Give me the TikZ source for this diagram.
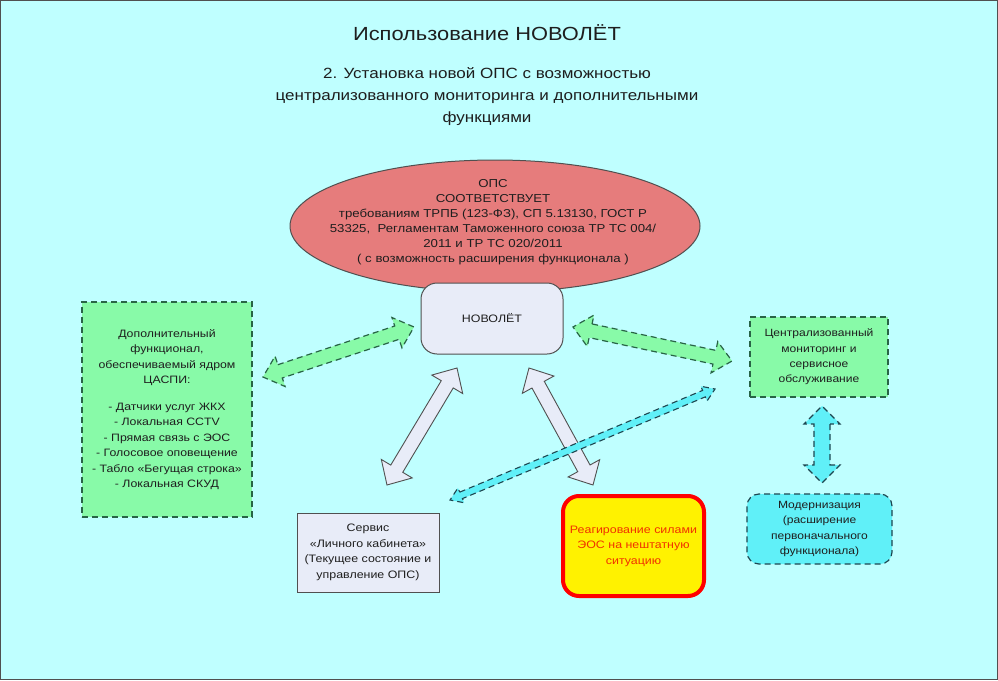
\documentclass[tikz,border=0pt]{standalone}
\usepackage{fontspec}
\setmainfont{Liberation Sans}[FakeStretch=1.15]
\usetikzlibrary{calc,shapes.geometric}
\definecolor{bgc}{RGB}{191,255,255}
\definecolor{grn}{RGB}{136,250,168}
\definecolor{grnline}{RGB}{40,100,70}
\definecolor{ellc}{RGB}{230,124,124}
\definecolor{boxc}{RGB}{232,236,248}
\definecolor{cyn}{RGB}{96,240,248}
\definecolor{cynline}{RGB}{30,70,80}
\definecolor{txt}{RGB}{30,30,30}
\definecolor{redtxt}{RGB}{240,50,0}
\definecolor{grayline}{RGB}{80,80,80}
% #1 style, #2 start, #3 end, #4 shaft half width, #5 head half width, #6 head length
\newcommand\dblarrow[6]{%
  \draw[#1] ($(#2)!#6!(#3)!#4!90:(#3)$) -- ($(#3)!#6!(#2)!#4!-90:(#2)$)
    -- ($(#3)!#6!(#2)!#5!-90:(#2)$) -- (#3) -- ($(#3)!#6!(#2)!#5!90:(#2)$)
    -- ($(#3)!#6!(#2)!#4!90:(#2)$) -- ($(#2)!#6!(#3)!#4!-90:(#3)$)
    -- ($(#2)!#6!(#3)!#5!-90:(#3)$) -- (#2) -- ($(#2)!#6!(#3)!#5!90:(#3)$) -- cycle;}
\begin{document}
\begin{tikzpicture}[x=1pt,y=-1pt,
  every node/.style={text=txt,font=\fontsize{10.8}{15.5}\selectfont,align=center,inner sep=0pt},
  grnbox/.style={draw=grnline,fill=grn,dash pattern=on 6pt off 4pt,line width=1.2pt},
  cynbox/.style={draw=cynline,fill=cyn,dash pattern=on 6pt off 4pt,line width=1.2pt,rounded corners=12pt},
  greybox/.style={draw=grayline,fill=boxc,line width=1pt},
  grnarrow/.style={draw=grnline,fill=grn,dash pattern=on 6pt off 4pt,line width=1.2pt,line join=miter},
  cynarrow/.style={draw=cynline,fill=cyn,dash pattern=on 6pt off 4pt,line width=1.1pt},
  greyarrow/.style={draw=grayline,fill=boxc,line width=0.9pt}]
\fill[bgc] (0,0) rectangle (998,680);
\draw[grayline,line width=1pt] (0.5,0.5) rectangle (997.5,679.5);
\useasboundingbox (0,0) rectangle (998,680);

\node[font=\fontsize{19}{22}\selectfont] (title) at (487,33) {Использование НОВОЛЁТ};
\node[font=\fontsize{14.8}{22}\selectfont] (sub) at (487,97) {2. Установка новой ОПС с возможностью\\
  централизованного мониторинга и дополнительными\\ функциями};

\node[ellipse,draw=grayline,fill=ellc,line width=1pt,minimum width=410pt,minimum height=132pt] (ops) at (495,226) {};
\node[font=\fontsize{11.5}{15}\selectfont] (opstext) at (493,222) {ОПС\\ СООТВЕТСТВУЕТ\\
  требованиям ТРПБ (123-ФЗ), СП 5.13130, ГОСТ Р\\
  53325,\ \ Регламентам Таможенного союза ТР ТС 004/\\
  2011 и ТР ТС 020/2011\\ ( с возможность расширения функционала )};

\node[greybox,rounded corners=16pt,minimum width=142pt,minimum height=71pt,font=\fontsize{10.8}{15}\selectfont] (nov) at (492,318.5) {НОВОЛЁТ};

\node[grnbox,minimum width=170pt,minimum height=215pt,font=\fontsize{10.7}{15.5}\selectfont] (left) at (167,409.5) {Дополнительный\\ функционал,\\ обеспечиваемый ядром\\ ЦАСПИ:\\[11pt]
  - Датчики услуг ЖКХ\\ - Локальная CCTV\\ - Прямая связь с ЭОС\\ - Голосовое оповещение\\
  - Табло «Бегущая строка»\\ - Локальная СКУД};

\node[grnbox,minimum width=138pt,minimum height=80pt,font=\fontsize{10.5}{15.3}\selectfont] (mon) at (819,357) {Централизованный\\ мониторинг и\\ сервисное\\ обслуживание};

\node[cynbox,minimum width=145pt,minimum height=70pt,font=\fontsize{10.5}{15.3}\selectfont] (mod) at (819.5,529) {Модернизация\\ (расширение\\ первоначального\\ функционала)};

\node[greybox,minimum width=142pt,minimum height=79pt] (lk) at (368,552.5) {Сервис\\ «Личного кабинета»\\ (Текущее состояние и\\ управление ОПС)};

\node[draw=red,fill=yellow,line width=4pt,rounded corners=16pt,minimum width=141pt,minimum height=100pt,text=redtxt] (eos) at (633.5,546) {Реагирование силами\\ ЭОС на нештатную\\ ситуацию};

% arrow end points
\coordinate (gl1) at (263,377); \coordinate (gl2) at (414,327);
\coordinate (gr1) at (573,327); \coordinate (gr2) at (732,361);
\coordinate (yl1) at (457,368); \coordinate (yl2) at (387,485);
\coordinate (yr1) at (529,368); \coordinate (yr2) at (593,485);
\coordinate (cl1) at (450,500); \coordinate (cl2) at (715,389);
\coordinate (cv1) at (822,406); \coordinate (cv2) at (822,483);

\dblarrow{grnarrow}{gl1}{gl2}{7pt}{16pt}{18pt}
\dblarrow{grnarrow}{gr1}{gr2}{7pt}{16pt}{18pt}
\dblarrow{greyarrow}{yl1}{yl2}{7pt}{18pt}{19pt}
\dblarrow{greyarrow}{yr1}{yr2}{7pt}{18pt}{19pt}
\dblarrow{cynarrow}{cl1}{cl2}{3.5pt}{8pt}{12pt}
\dblarrow{cynarrow}{cv1}{cv2}{8pt}{18pt}{18pt}
\end{tikzpicture}
\end{document}
